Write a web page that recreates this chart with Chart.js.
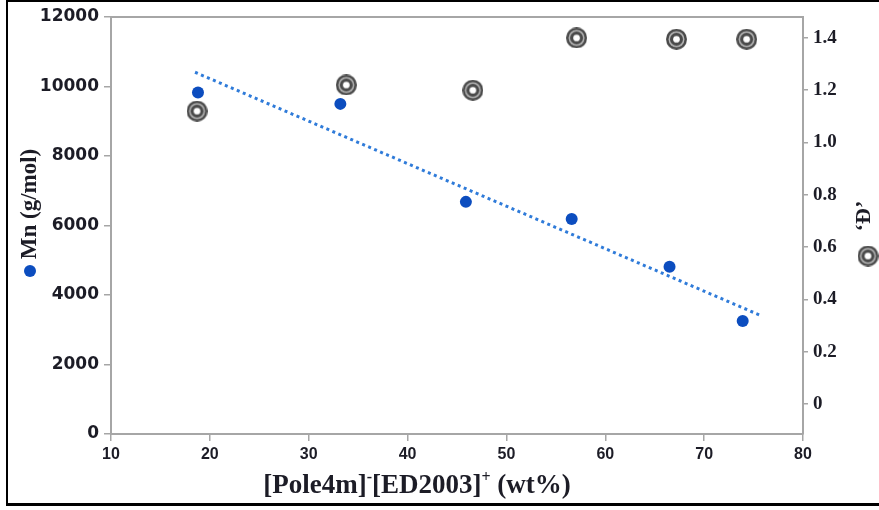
<!DOCTYPE html>
<html>
<head>
<meta charset="utf-8">
<script src="https://cdn.jsdelivr.net/npm/chart.js@4.4.1/dist/chart.umd.min.js"></script>
<style>
  html, body { margin: 0; padding: 0; background: #fff; }
  #wrap { position: relative; width: 879px; height: 510px; }
</style>
</head>
<body>
<div id="wrap"><canvas id="mnChart" width="879" height="510"></canvas></div>
<script>
// Mn and dispersity against ionic liquid content
const mnX = [18.8, 33.2, 45.9, 56.6, 66.5, 73.9];
const mnValues = [9830, 9500, 6680, 6190, 4810, 3250];
const dispX = [18.7, 33.8, 46.6, 57.1, 67.2, 74.3];
const dispValues = [1.12, 1.22, 1.20, 1.40, 1.395, 1.395];
// linear trend of Mn, end points
const trendX = [18.5, 75.8];
const trendValues = [10410, 3400];

const xTicks = [10, 20, 30, 40, 50, 60, 70, 80];
const mnTicks = [0, 2000, 4000, 6000, 8000, 10000, 12000];
const dispTicks = [0, 0.2, 0.4, 0.6, 0.8, 1.0, 1.2, 1.4];

const axisGrey = '#a6a6a6';
const labelColor = '#1c1c26';
const mnBlue = '#0c4dbf';

// concentric ring marker for the dispersity series
function bullseye(size) {
    const c = document.createElement('canvas');
    c.width = c.height = size;
    const g = c.getContext('2d');
    const r = size / 2;
    const rings = [[r, '#4a4a4a'], [r * 0.76, '#b8b8b8'], [r * 0.62, '#4a4a4a'], [r * 0.32, '#ffffff']];
    rings.forEach(([rad, col]) => {
        g.beginPath();
        g.arc(r, r, rad, 0, Math.PI * 2);
        g.fillStyle = col;
        g.fill();
    });
    return c;
}
const ringMarker = bullseye(21);

const fixedTicks = list => scale => { scale.ticks = list.map(v => ({ value: v })); };

const decorations = {
    id: 'decorations',
    beforeDatasetsDraw(chart) {
        const { ctx, chartArea: a } = chart;
        ctx.save();
        ctx.strokeStyle = axisGrey;
        ctx.lineWidth = 2;
        ctx.beginPath();
        ctx.moveTo(a.left, a.top);
        ctx.lineTo(a.right, a.top);
        ctx.stroke();
        ctx.restore();
    },
    afterDraw(chart) {
        const ctx = chart.ctx;
        ctx.save();

        // frame
        ctx.fillStyle = '#000';
        ctx.fillRect(6, 0, 873, 2);
        ctx.fillRect(6, 0, 2, 506);
        ctx.fillRect(6, 503, 873, 3);

        // x axis title with superscripts
        const big = 'bold 27px "Liberation Serif"';
        const small = 'bold 16px "Liberation Serif"';
        const parts = [
            ['[Pole4m]', big, 0],
            ['-', small, -11],
            ['[ED2003]', big, 0],
            ['+', small, -11],
            [' (wt%)', big, 0]
        ];
        let total = 0;
        parts.forEach(p => { ctx.font = p[1]; total += ctx.measureText(p[0]).width; });
        let x = 417 - total / 2;
        ctx.fillStyle = labelColor;
        ctx.textBaseline = 'alphabetic';
        ctx.textAlign = 'left';
        parts.forEach(p => {
            ctx.font = p[1];
            ctx.fillText(p[0], x, 493 + p[2]);
            x += ctx.measureText(p[0]).width;
        });

        // left title
        ctx.save();
        ctx.translate(30, 204);
        ctx.rotate(-Math.PI / 2);
        ctx.font = 'bold 23px "Liberation Serif"';
        ctx.textAlign = 'center';
        ctx.textBaseline = 'middle';
        ctx.fillText('Mn (g/mol)', 0, 0);
        ctx.restore();
        ctx.beginPath();
        ctx.arc(30, 271, 6, 0, Math.PI * 2);
        ctx.fillStyle = mnBlue;
        ctx.fill();

        // right title
        ctx.save();
        ctx.translate(864, 216);
        ctx.rotate(-Math.PI / 2);
        ctx.font = 'bold 22px "Liberation Serif"';
        ctx.textAlign = 'center';
        ctx.textBaseline = 'middle';
        ctx.fillStyle = labelColor;
        ctx.fillText('\u2018\u0110\u2019', 0, 0);
        ctx.restore();
        ctx.drawImage(ringMarker, 868 - 10.5, 256 - 10.5);

        ctx.restore();
    }
};

const ctx = document.getElementById('mnChart').getContext('2d');
const chart = new Chart(ctx, {
    type: 'scatter',
    data: {
        datasets: [{
            label: 'Mn',
            data: mnX.map((x, i) => ({ x: x, y: mnValues[i] })),
            yAxisID: 'y',
            pointRadius: 6,
            pointBackgroundColor: mnBlue,
            pointBorderWidth: 0
        }, {
            label: 'Đ',
            data: dispX.map((x, i) => ({ x: x, y: dispValues[i] })),
            yAxisID: 'y1',
            pointStyle: ringMarker,
            pointRadius: 10
        }, {
            label: 'trend',
            data: trendX.map((x, i) => ({ x: x, y: trendValues[i] })),
            yAxisID: 'y',
            showLine: true,
            pointRadius: 0,
            borderColor: '#2f7bd9',
            borderWidth: 3,
            borderDash: [3, 3.5]
        }]
    },
    options: {
        responsive: false,
        animation: false,
        devicePixelRatio: 1,
        layout: { padding: { top: 17, left: 0, right: 0, bottom: 0 } },
        plugins: { legend: { display: false }, tooltip: { enabled: false } },
        scales: {
            x: {
                type: 'linear',
                min: 10,
                max: 80,
                afterBuildTicks: fixedTicks(xTicks),
                afterFit: s => { s.height = 76; },
                ticks: { color: labelColor, padding: 4, font: { family: 'Liberation Sans', weight: 'bold', size: 16 } },
                grid: { drawOnChartArea: false, color: axisGrey, tickLength: 7, lineWidth: 1.5 },
                border: { color: axisGrey, width: 2 }
            },
            y: {
                position: 'left',
                min: 0,
                max: 12000,
                afterBuildTicks: fixedTicks(mnTicks),
                afterFit: s => { s.width = 111; },
                ticks: {
                    color: labelColor,
                    padding: 5,
                    font: { family: 'DejaVu Sans', weight: 'bold', size: 17 },
                    callback: v => String(v)
                },
                grid: { drawOnChartArea: false, color: axisGrey, tickLength: 7, lineWidth: 1.5 },
                border: { color: axisGrey, width: 2 }
            },
            y1: {
                position: 'right',
                min: -0.115,
                max: 1.48,
                afterBuildTicks: fixedTicks(dispTicks),
                afterFit: s => { s.width = 76; },
                ticks: {
                    color: labelColor,
                    padding: 5,
                    font: { family: 'Liberation Serif', weight: 'bold', size: 19 },
                    callback: v => (v === 0 ? '0' : v.toFixed(1))
                },
                grid: { drawOnChartArea: false, color: axisGrey, tickLength: 5, lineWidth: 1.5 },
                border: { color: axisGrey, width: 2 }
            }
        }
    },
    plugins: [decorations]
});
</script>
</body>
</html>
